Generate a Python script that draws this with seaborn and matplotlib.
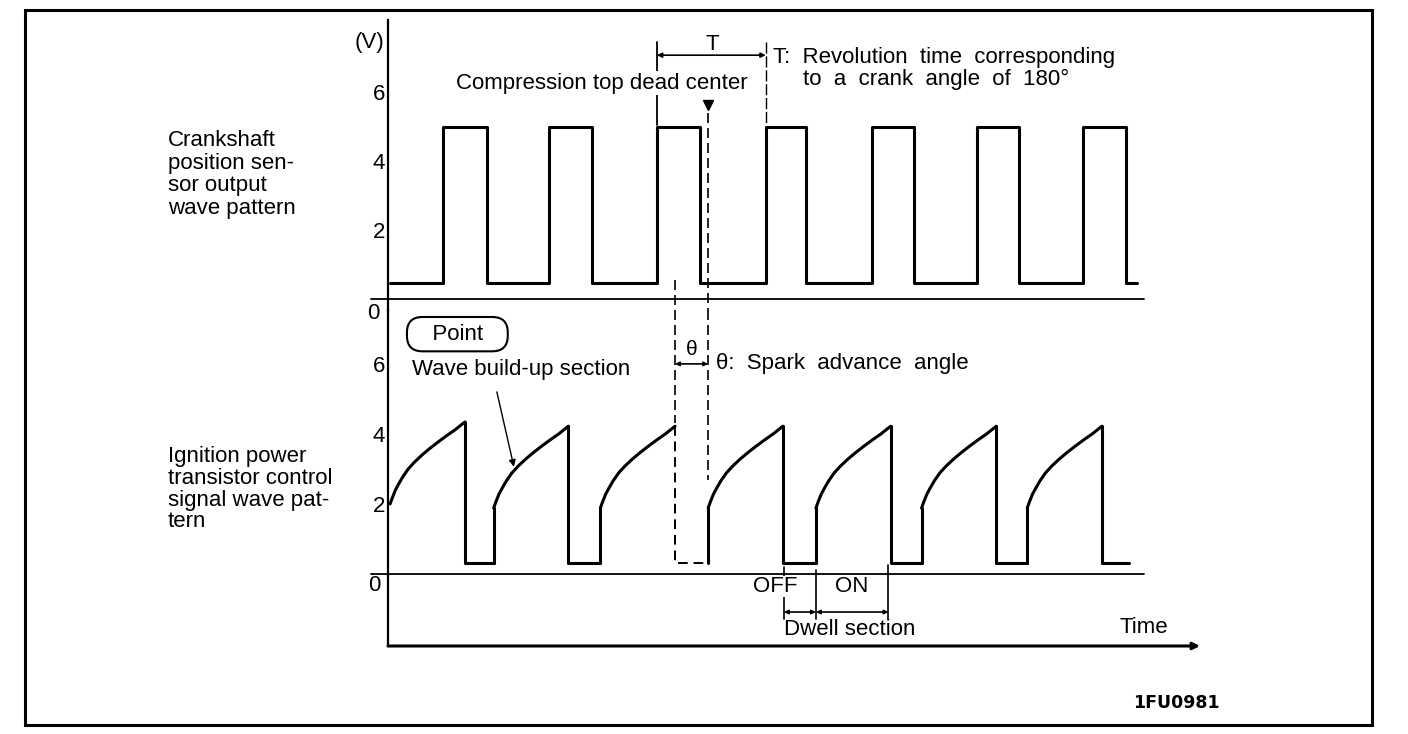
import pandas as pd
import matplotlib.pyplot as plt
import seaborn as sns
from matplotlib.patches import Rectangle

# Crankshaft position sensor output (time in units of T, volts)
crank_rise = [0.52, 1.51, 2.52, 3.54, 4.54, 5.52, 6.51]
crank_fall = [0.93, 1.91, 2.92, 3.92, 4.93, 5.91, 6.92]
crank_start, crank_end = 0.02, 7.02
crank_low, crank_high = 0.45, 5.0

# Ignition power transistor control signal
ign_ramp_start = [0.02, 0.99, 1.99, 3.0, 4.01, 5.0, 5.99]
ign_end = 6.94
ign_low = 0.3
# shape of one wave build-up section
ramp_dt = [0.0, 0.02, 0.05, 0.08, 0.12, 0.17, 0.23, 0.30, 0.37, 0.45, 0.53, 0.61, 0.70]
ramp_v = [1.88, 2.05, 2.28, 2.45, 2.66, 2.88, 3.08, 3.28, 3.46, 3.65, 3.83, 4.00, 4.22]

# marked times
theta_t = 2.69   # ignition point
tdc_t = 3.0      # compression top dead center
dwell_off, dwell_on, dwell_end = 3.71, 4.01, 4.69

sns.set_style("white")
plt.rcParams['font.family'] = ['Liberation Sans', 'DejaVu Sans']
plt.rcParams['text.color'] = 'black'

W, H = 1408, 734
fig = plt.figure(figsize=(W / 100, H / 100), dpi=100)


def fx(px):
    return px / W


def fy(py):
    return 1 - py / H


ax1 = fig.add_axes([fx(388), fy(310), fx(1215) - fx(388), fy(20) - fy(310)])
ax2 = fig.add_axes([fx(388), fy(646), fx(1215) - fx(388), fy(310) - fy(646)])

# square wave
ct, cv = [crank_start], [crank_low]
for r, f in zip(crank_rise, crank_fall):
    ct += [r, r, f, f]
    cv += [crank_low, crank_high, crank_high, crank_low]
ct.append(crank_end)
cv.append(crank_low)
crank_df = pd.DataFrame({'t': ct, 'v': cv})
sns.lineplot(data=crank_df, x='t', y='v', sort=False, estimator=None,
             color='black', lw=2.2, ax=ax1)

# ignition signal, built segment by segment
for i, s in enumerate(ign_ramp_start):
    ramp = pd.DataFrame({'t': [s + d for d in ramp_dt], 'v': ramp_v})
    if i == 0:
        ramp['v'] = ramp['v'] + 0.12
    peak_t, peak_v = ramp['t'].iloc[-1], ramp['v'].iloc[-1]
    nxt = ign_ramp_start[i + 1] if i + 1 < len(ign_ramp_start) else ign_end
    fall = pd.DataFrame({'t': [peak_t, peak_t, nxt], 'v': [peak_v, ign_low, ign_low]})
    sns.lineplot(data=ramp, x='t', y='v', sort=False, estimator=None,
                 color='black', lw=2.2, ax=ax2)
    if i == 2:
        sns.lineplot(data=fall, x='t', y='v', sort=False, estimator=None,
                     color='black', lw=1.4, ax=ax2, linestyle=(0, (5, 3)))
    else:
        sns.lineplot(data=fall, x='t', y='v', sort=False, estimator=None,
                     color='black', lw=2.2, ax=ax2)
    if i + 1 < len(ign_ramp_start):
        ax2.plot([nxt, nxt], [ign_low, ramp_v[0]], color='black', lw=2.2)

ax1.set_xlim(0, 7.75)
ax2.set_xlim(0, 7.75)
ax1.set_ylim(-0.32, 8.09)
ax2.set_ylim(-2.06, 7.54)

for ax in (ax1, ax2):
    ax.patch.set_alpha(0)
    for side in ['top', 'right', 'bottom']:
        ax.spines[side].set_visible(False)
    ax.spines['left'].set_linewidth(1.6)
    ax.spines['left'].set_color('black')
    ax.set_xticks([])
    ax.set_yticks([2, 4, 6])
    ax.tick_params(axis='y', direction='in', length=6, width=1.2, pad=2,
                   labelsize=16, colors='black')
    ax.set_xlabel('')
    ax.set_ylabel('')
    ax.axhline(0, xmin=-0.02, xmax=7.08 / 7.75, color='black', lw=1.3, clip_on=False)

ax1.text(-0.08, -0.42, '0', ha='right', va='center', fontsize=16)
ax2.text(-0.07, -0.33, '0', ha='right', va='center', fontsize=16)
ax1.text(-0.17, 7.45, '(V)', ha='center', va='center', fontsize=16)

# dashed reference lines
dash = dict(color='black', lw=1.2, linestyle=(0, (6, 3)), clip_on=False)
ax1.plot([theta_t, theta_t], [0.55, -0.32], **dash)
ax2.plot([theta_t, theta_t], [7.54, 4.3], **dash)
ax1.plot([tdc_t, tdc_t], [5.39, -0.32], **dash)
ax2.plot([tdc_t, tdc_t], [7.54, 2.69], **dash)
ax1.plot([tdc_t], [5.62], marker='v', color='black', markersize=7)

# T annotation
ax1.plot([2.52, 2.52], [7.45, 5.05], color='black', lw=1.3, clip_on=False)
ax1.plot([3.54, 3.54], [7.45, 5.05], color='black', lw=1.0,
         linestyle=(0, (8, 2)), clip_on=False)
ax1.annotate('', xy=(3.54, 7.07), xytext=(2.52, 7.07),
             arrowprops=dict(arrowstyle='<|-|>', lw=1.2, color='black',
                             mutation_scale=7, shrinkA=0, shrinkB=0))
ax1.text(3.04, 7.38, 'T', ha='center', va='center', fontsize=16)
ax1.text(2.0, 6.26, 'Compression top dead center', ha='center', va='center', fontsize=16,
         bbox=dict(boxstyle='square,pad=0.05', fc='white', ec='none'), zorder=5)
ax1.text(3.61, 7.01, 'T:  Revolution  time  corresponding', ha='left', va='center', fontsize=16)
ax1.text(3.89, 6.38, 'to  a  crank  angle  of  180°', ha='left', va='center', fontsize=16)

# lower panel notes
ax2.text(0.65, 6.85, '   Point   ', ha='center', va='center', fontsize=16,
         bbox=dict(boxstyle='round,pad=0.3,rounding_size=0.7', fc='white',
                   ec='black', lw=1.5))
ax2.text(0.225, 5.83, 'Wave build-up section', ha='left', va='center', fontsize=16)
ax2.annotate('', xy=(1.18, 3.06), xytext=(1.02, 5.2),
             arrowprops=dict(arrowstyle='-|>', lw=1.0, color='black',
                             mutation_scale=10, shrinkA=0, shrinkB=0))
ax2.text(2.85, 6.4, 'θ', ha='center', va='center', fontsize=15)
ax2.annotate('', xy=(tdc_t, 6.0), xytext=(theta_t, 6.0),
             arrowprops=dict(arrowstyle='<|-|>', lw=1.2, color='black',
                             mutation_scale=6, shrinkA=0, shrinkB=0))
ax2.text(3.07, 6.0, 'θ:  Spark  advance  angle', ha='left', va='center', fontsize=16)

# dwell section
for t0, y0 in [(dwell_off, 0.2), (dwell_on, 0.1), (dwell_end, 0.25)]:
    ax2.plot([t0, t0], [y0, -1.3], color='black', lw=1.2)
ax2.text(3.63, -0.37, 'OFF', ha='center', va='center', fontsize=16,
         bbox=dict(boxstyle='square,pad=0.0', fc='white', ec='none'), zorder=5)
ax2.text(4.35, -0.37, 'ON', ha='center', va='center', fontsize=16)
ax2.annotate('', xy=(dwell_on, -1.09), xytext=(dwell_off, -1.09),
             arrowprops=dict(arrowstyle='<|-|>', lw=1.2, color='black',
                             mutation_scale=6, shrinkA=0, shrinkB=0))
ax2.annotate('', xy=(dwell_end, -1.09), xytext=(dwell_on, -1.09),
             arrowprops=dict(arrowstyle='<|-|>', lw=1.2, color='black',
                             mutation_scale=6, shrinkA=0, shrinkB=0))
ax2.text(3.71, -1.6, 'Dwell section', ha='left', va='center', fontsize=16)
ax2.text(7.08, -1.54, 'Time', ha='center', va='center', fontsize=16)
ax2.annotate('', xy=(7.61, -2.06), xytext=(0, -2.06), annotation_clip=False,
             arrowprops=dict(arrowstyle='-|>', lw=2.2, color='black',
                             mutation_scale=10, shrinkA=0, shrinkB=0))

# panel captions
fig.text(fx(168), fy(130), 'Crankshaft\nposition sen-\nsor output\nwave pattern',
         ha='left', va='top', fontsize=16, linespacing=1.1)
fig.text(fx(168), fy(446), 'Ignition power\ntransistor control\nsignal wave pat-\ntern',
         ha='left', va='top', fontsize=16, linespacing=1.05)
fig.text(fx(1176), fy(703), '1FU0981', ha='center', va='center', fontsize=12.5,
         family='DejaVu Sans', weight='bold')

fig.patches.append(Rectangle((fx(25), fy(725)), fx(1372) - fx(25), fy(10) - fy(725),
                             transform=fig.transFigure, fill=False, ec='black', lw=2.2))

fig.savefig('out.png', dpi=100)
